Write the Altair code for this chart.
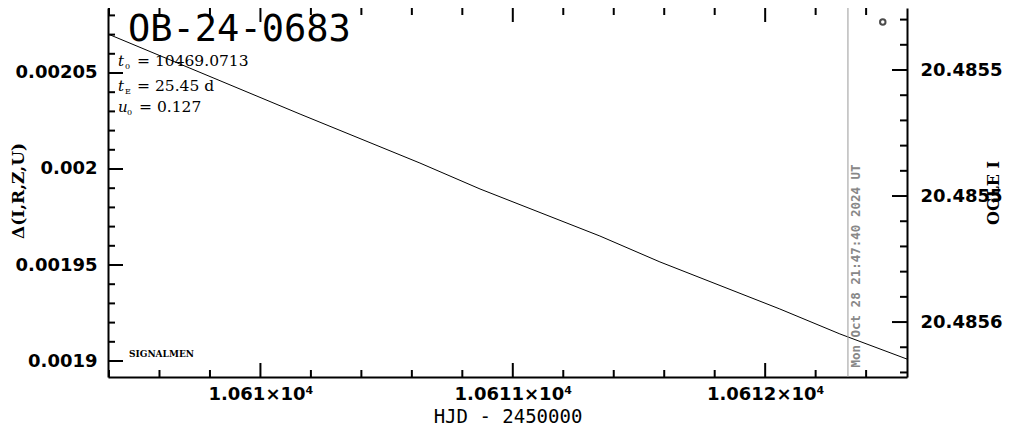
import altair as alt
import pandas as pd

# ---- data ----
hjd = [10609.396, 10610.157, 10610.632, 10610.870, 10611.345, 10611.583, 10612.058, 10612.296, 10612.562]
delta = [0.0020703, 0.0020286, 0.0020031, 0.0019896, 0.0019651, 0.0019516, 0.0019271, 0.0019141, 0.0019010]
obs_hjd = [10612.466]
obs_delta = [0.0020766]
now_hjd = [10612.328]
now_label = ["Mon Oct 28 21:47:40 2024 UT"]

x_major = [10610, 10611, 10612]
x_minor = [10609.4, 10609.6, 10609.8, 10610.2, 10610.4, 10610.6, 10610.8,
           10611.2, 10611.4, 10611.6, 10611.8, 10612.2, 10612.4]
y_major = [0.0019, 0.00195, 0.0020, 0.00205]
y_minor = [0.00190, 0.00191, 0.00192, 0.00193, 0.00194, 0.00196, 0.00197, 0.00198,
           0.00199, 0.00201, 0.00202, 0.00203, 0.00204, 0.00206, 0.00207, 0.00208]
mag_major = [20.4855, 20.48555, 20.4856]
mag_minor = [20.48548, 20.48549, 20.48551, 20.48552, 20.48553, 20.48554,
             20.48556, 20.48557, 20.48558, 20.48559, 20.48561, 20.48562]

XDOM = [10609.396, 10612.562]
YDOM = [0.00189167, 0.00208385]
MDOM = [20.4854754, 20.4856218]

W, H = 799, 369
LAB_FONT = "DejaVu Sans"

xscale = alt.Scale(domain=XDOM, nice=False, zero=False)
yscale = alt.Scale(domain=YDOM, nice=False, zero=False)
mscale = alt.Scale(domain=MDOM, nice=False, zero=False, reverse=True)

xaxis = alt.Axis(values=x_major, labelExpr="format(datum.value/10000, '.5~f') + '×10⁴'",
                 ticks=False, grid=False, domainColor="black", domainWidth=2,
                 labelFont=LAB_FONT, labelFontWeight="bold", labelFontSize=18, labelColor="black",
                 labelPadding=8, title="HJD - 2450000", titleFont="DejaVu Sans Mono",
                 titleFontSize=19, titleFontWeight="normal", titleColor="black", titlePadding=4)
yaxis = alt.Axis(values=y_major, format="~g", ticks=False, grid=False, domainColor="black",
                 domainWidth=2, labelFont=LAB_FONT, labelFontWeight="bold", labelFontSize=18,
                 labelColor="black", labelPadding=11, title=None)
maxis = alt.Axis(values=mag_major, format=".4f", orient="right", ticks=False, grid=False,
                 domainColor="black", domainWidth=2, labelFont=LAB_FONT, labelFontWeight="bold",
                 labelFontSize=18, labelColor="black", labelPadding=13, title=None)

df_line = pd.DataFrame({"hjd": hjd, "delta": delta})
df_obs = pd.DataFrame({"hjd": obs_hjd, "delta": obs_delta})
df_now = pd.DataFrame({"hjd": now_hjd, "label": now_label})

line = alt.Chart(df_line).mark_line(color="black", strokeWidth=1).encode(
    x=alt.X("hjd:Q", scale=xscale, axis=xaxis),
    y=alt.Y("delta:Q", scale=yscale, axis=yaxis),
)
obs = alt.Chart(df_obs).mark_point(shape="circle", size=30, filled=False, color="black",
                                   strokeWidth=2).encode(
    x=alt.X("hjd:Q", scale=xscale, axis=xaxis),
    y=alt.Y("delta:Q", scale=yscale, axis=None),
)
now_rule = alt.Chart(df_now).mark_rule(color="#999999", strokeWidth=1).encode(
    x=alt.X("hjd:Q", scale=xscale, axis=xaxis),
)
now_text = alt.Chart(df_now).mark_text(angle=270, align="center", baseline="top", dy=2,
                                       font="DejaVu Sans Mono", fontWeight="bold",
                                       fontSize=12.5, color="#888888").encode(
    x=alt.X("hjd:Q", scale=xscale, axis=xaxis),
    y=alt.value(258),
    text="label:N",
)

def xticks(vals, y0, y1):
    return alt.Chart(pd.DataFrame({"v": vals})).mark_rule(color="black", strokeWidth=2).encode(
        x=alt.X("v:Q", scale=xscale, axis=xaxis), y=alt.value(y0), y2=alt.value(y1))

def yticks(vals, scale, x0, x1):
    return alt.Chart(pd.DataFrame({"v": vals})).mark_rule(color="black", strokeWidth=2).encode(
        y=alt.Y("v:Q", scale=scale, axis=None), x=alt.value(x0), x2=alt.value(x1))

tick_layers = [
    xticks(x_major, H, H - 14), xticks(x_minor, H, H - 7),
    xticks(x_major, 0, 14), xticks(x_minor, 0, 7),
    yticks(y_major, yscale, 0, 15), yticks(y_minor, yscale, 0, 7),
    yticks(mag_major, mscale, W, W - 15), yticks(mag_minor, mscale, W, W - 7),
]

mag_axis = alt.Chart(pd.DataFrame({"m": MDOM})).mark_point(opacity=0).encode(
    y=alt.Y("m:Q", scale=mscale, axis=maxis),
)

def txt(s, x, y, size, font="DejaVu Serif", weight="normal", style="normal", angle=0,
        align="left", baseline="alphabetic", color="black"):
    return alt.Chart(pd.DataFrame({"t": [s]})).mark_text(
        font=font, fontSize=size, fontWeight=weight, fontStyle=style, angle=angle,
        align=align, baseline=baseline, color=color).encode(
        x=alt.value(x), y=alt.value(y), text="t:N")

texts = [
    txt("OB-24-0683", 20, 33, 37, font="DejaVu Sans Mono"),
    txt("t", 10, 58, 15, style="italic"), txt("0", 17, 61, 8), txt("= 10469.0713", 29, 58, 15.5),
    txt("t", 10, 83, 15, style="italic"), txt("E", 17, 86, 8), txt("= 25.45 d", 29, 83, 15.5),
    txt("u", 10, 104, 15, style="italic"), txt("0", 19, 107, 8), txt("= 0.127", 31, 104, 15.5),
    txt("SIGNALMEN", 21, 349, 9, weight="bold"),
    txt("Δ(I,R,Z,U)", -89, 183, 17, font="DejaVu Serif", weight="bold", angle=270,
        align="center", baseline="middle"),
    txt("OGLE I", 886, 185, 16, font="DejaVu Serif", weight="bold", angle=270,
        align="center", baseline="middle"),
]

chart = alt.layer(line, obs, now_rule, now_text, *tick_layers, mag_axis, *texts).resolve_scale(
    y="independent"
).properties(
    width=W, height=H, autosize=alt.AutoSizeParams(type="none"),
    padding={"left": 100, "top": 0, "right": 96, "bottom": 49},
).configure_view(stroke=None)

chart.save("out.html", embed_options={"renderer": "svg", "actions": False})
